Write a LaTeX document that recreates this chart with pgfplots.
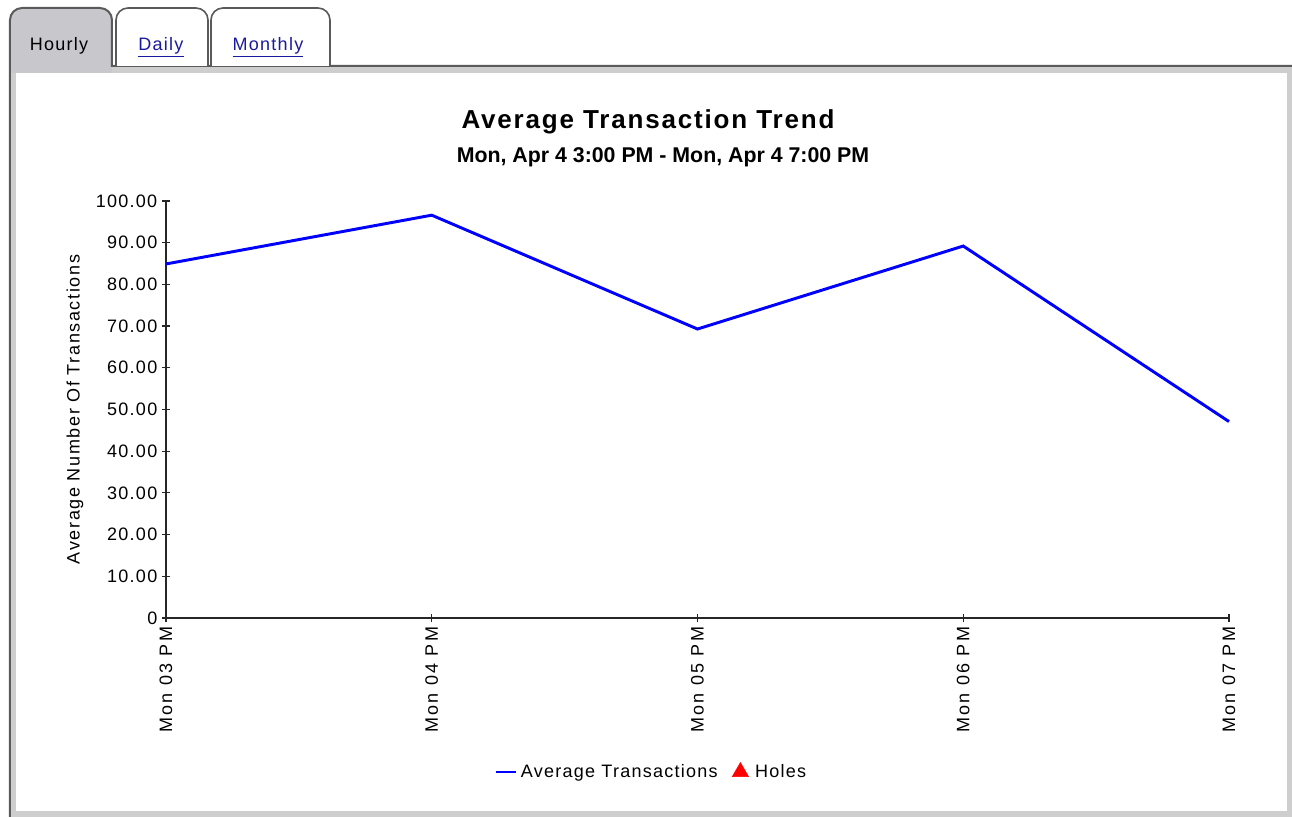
\documentclass[border=0pt]{standalone}
\usepackage{fontspec}
\setmainfont{Liberation Sans}[LetterSpace=7.0]
\newfontfamily\plainfont{Liberation Sans}
\usepackage{pgfplots}
\pgfplotsset{compat=1.18}
\definecolor{tabgray}{RGB}{200,200,204}
\definecolor{band}{RGB}{206,206,206}
\definecolor{edge}{RGB}{90,90,90}
\definecolor{linkblue}{RGB}{26,26,160}
\definecolor{lineblue}{RGB}{0,0,255}
\newcommand{\tickfont}{\fontsize{13.5}{16}\selectfont}

\begin{document}
\begin{tikzpicture}
% page = 1292 x 817 px, 1px = 0.75pt, origin at the axis corner (166,618)
\useasboundingbox (-124.5pt,-149.25pt) rectangle (844.5pt,463.5pt);
\begin{scope}[x=0.75pt, y=-0.75pt, shift={(-124.5pt,463.5pt)}]
  % panel
  \fill[band] (9,66) rectangle (1292,817);
  \fill[white] (16,73) rectangle (1287,811);
  % tabs
  \fill[tabgray] (10,73) {[rounded corners=9pt] -- (10,8) -- (112,8)} -- (112,73) -- cycle;
  \draw[edge, line width=1.5pt] (10,817) {[rounded corners=9pt] -- (10,8) -- (112,8)} -- (112,66) -- (1292,66);
  \filldraw[fill=white, draw=edge, line width=1.2pt] (116,66) {[rounded corners=9pt] -- (116,8) -- (208,8)} -- (208,66);
  \filldraw[fill=white, draw=edge, line width=1.2pt] (211,66) {[rounded corners=9pt] -- (211,8) -- (330,8)} -- (330,66);
  \node[font=\tickfont] at (59,46) {Hourly};
  \node[font=\tickfont, text=linkblue] at (161,47) {\underline{Daily}};
  \node[font=\tickfont, text=linkblue] at (268,47) {\underline{Monthly}};
  % titles
  \node[font=\fontsize{19.5}{23}\selectfont\bfseries] at (648,122) {Average Transaction Trend};
  \node[font=\plainfont\fontsize{16}{19}\selectfont\bfseries] at (663,157) {Mon, Apr 4 3:00 PM - Mon, Apr 4 7:00 PM};
\end{scope}

\begin{axis}[
  at={(0pt,0pt)}, anchor=south west,
  scale only axis,
  width=797.25pt, height=312.75pt,
  xmin=0, xmax=4, ymin=0, ymax=100,
  enlargelimits=false,
  axis x line=bottom, axis y line=left,
  axis line style={-, black!85, line width=1.2pt},
  xtick={0,1,2,3,4},
  xticklabels={Mon 03 PM,Mon 04 PM,Mon 05 PM,Mon 06 PM,Mon 07 PM},
  ytick={0,10,20,30,40,50,60,70,80,90,100},
  yticklabels={0,10.00,20.00,30.00,40.00,50.00,60.00,70.00,80.00,90.00,100.00},
  tick align=center, major tick length=6pt,
  tick style={black!85, line width=0.9pt},
  ticklabel style={font=\tickfont},
  xticklabel style={rotate=90, anchor=east, font=\tickfont\addfontfeatures{LetterSpace=13.0}},
  ylabel={Average Number Of Transactions},
  ylabel style={at={(axis description cs:-0.0856,0.5)}, anchor=center,
    font=\tickfont\addfontfeatures{LetterSpace=9.0}},
  legend style={at={(axis description cs:0.457,-0.369)}, anchor=center,
    draw=none, fill=none, font=\tickfont, legend columns=2,
    /tikz/every even column/.append style={column sep=7pt}},
  clip=false,
]
\addplot[lineblue, line width=2.2pt,
  legend image code/.code={\path[draw=none] (0pt,0pt) -- (17pt,0pt);
    \draw[draw=lineblue, line width=1.3pt] (0pt,0pt) -- (15pt,0pt);}]
  coordinates {(0,84.9) (1,96.6) (2,69.3) (3,89.2) (4,47.1)};
\addlegendentry{Average Transactions}
\addlegendimage{legend image code/.code={\path[draw=none] (-2pt,0pt) -- (15pt,0pt);
    \draw[red, fill=red, mark=triangle*, mark size=7pt] plot coordinates {(6pt,0pt)};}}
\addlegendentry{Holes}
\end{axis}
\end{tikzpicture}
\end{document}
